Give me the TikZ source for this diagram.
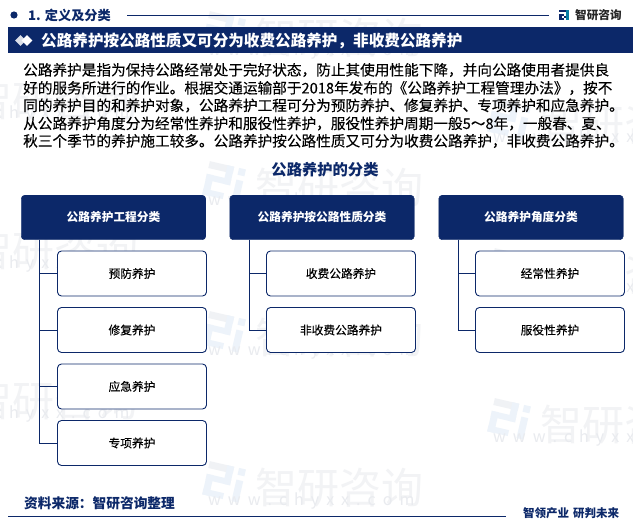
\documentclass[tikz,border=0pt]{standalone}
\usepackage{fontspec}
\setmainfont{Noto Sans CJK SC}
\newfontfamily\medf[FakeBold=0.18]{Noto Sans CJK SC}
\usetikzlibrary{shapes.geometric}
\definecolor{navy}{HTML}{0C2869}
\definecolor{wm}{HTML}{F2F3F5}
\definecolor{wmu}{HTML}{E9EBEF}
\definecolor{wmb}{HTML}{EDF3FA}
\definecolor{wmg}{HTML}{F0F2F5}
\tikzset{
 x=1pt,y=-1pt,
 headbox/.style={draw=navy,fill=navy,rounded corners=3.5pt,minimum width=184.5pt,minimum height=44.5pt,inner sep=0pt,text=white,font=\fontsize{11.7}{14}\selectfont\bfseries},
 itembox/.style={draw=navy,line width=0.9pt,fill=white,rounded corners=4pt,minimum width=149pt,minimum height=45pt,inner sep=0pt,text=black,font=\fontsize{11.7}{14}\selectfont\medf},
 conn/.style={draw=navy,line width=0.8pt},
 bodyline/.style={anchor=west,inner sep=0pt,text=black,font=\fontsize{14.65}{16}\selectfont\medf},
 wmtext/.style={text=wm,inner sep=0pt,font=\fontsize{42}{46}\selectfont},
 wmurl/.style={text=wmu,inner sep=0pt,font=\fontsize{16}{20}\selectfont},
}
\newcommand{\wg}{\hspace{7pt}}
\newcommand{\wmark}[2]{%
 \begin{scope}[shift={(#1,#2)},rotate=-13]
  \fill[wmg] (-50,-16) rectangle (-25,-9);
  \fill[wmb] (-32,-16) rectangle (-25,3);
  \fill[wmb] (-50,-3) rectangle (-25,3);
  \fill[wmb] (-50,-3) rectangle (-43,18);
  \fill[wmb] (-50,12) rectangle (-29,18);
  \fill[wmb] (-20,-16) rectangle (-13,-9);
  \fill[wmb] (-20,-4) rectangle (-13,18);
  \node[wmtext,anchor=west] at (0,0) {智研咨询};
  \node[wmurl,anchor=west] at (-43,23) {w\wg w\wg w\wg .\wg c\wg h\wg y\wg x\wg x\wg .\wg c\wg o\wg m};
 \end{scope}}
\begin{document}
\begin{tikzpicture}
\useasboundingbox (0,0) rectangle (633,524);
\fill[white] (0,0) rectangle (633,524);
\begin{scope}
\clip (0,0) rectangle (633,524);
\wmark{255}{488}
\wmark{540}{425}
\wmark{-30}{551}
\wmark{255}{338}
\wmark{540}{275}
\wmark{-30}{401}
\wmark{255}{188}
\wmark{540}{125}
\wmark{-30}{251}
\wmark{255}{38}
\wmark{540}{-25}
\wmark{-30}{101}
\end{scope}
% section header
\fill[navy] (14,15) circle (3.6);
\node[anchor=west,inner sep=0pt,text=navy,font=\fontsize{13.2}{15}\selectfont\bfseries] (sect) at (28,15.5) {1. 定义及分类};
\coordinate (ruleL) at (127,15);
\coordinate (ruleR) at (549,15);
\draw[navy,line width=0.8pt] (ruleL) -- (ruleR);
% logo
\fill[navy] (559,10) rectangle (568,12.5);
\fill[navy] (559,14) rectangle (564,16.5);
\fill[navy] (559,14) rectangle (561.5,20.5);
\fill[navy] (559,18.5) rectangle (564,20.5);
\fill[navy] (564,16) rectangle (566,18);
\fill[navy!60!cyan] (566,10) rectangle (568.5,20.5);
\node[anchor=west,inner sep=0pt,text=black!85,font=\fontsize{11.6}{13}\selectfont\bfseries] (logo) at (575,15) {智研咨询};
% title band
\fill[navy] (8,27) rectangle (633,53);
\node[diamond,fill=white!85!navy,inner sep=0pt,minimum width=11pt,minimum height=11pt] (da) at (20.5,40.5) {};
\node[diamond,fill=white,inner sep=0pt,minimum width=11pt,minimum height=11pt] (db) at (27,40.5) {};
\node[anchor=west,inner sep=0pt,text=white,font=\fontsize{15.6}{18}\selectfont\bfseries] (title) at (41,40.5) {公路养护按公路性质又可分为收费公路养护，非收费公路养护};
% body
\node[bodyline] (l1) at (23,70) {公路养护是指为保持公路经常处于完好状态，防止其使用性能下降，并向公路使用者提供良};
\node[bodyline] (l2) at (23,88) {好的服务所进行的作业。根据交通运输部于2018年发布的《公路养护工程管理办法》，按不};
\node[bodyline] (l3) at (23,105.5) {同的养护目的和养护对象，公路养护工程可分为预防养护、修复养护、专项养护和应急养护。};
\node[bodyline] (l4) at (23,123.5) {从公路养护角度分为经常性养护和服役性养护，服役性养护周期一般5～8年，一般春、夏、};
\node[bodyline] (l5) at (23,141) {秋三个季节的养护施工较多。公路养护按公路性质又可分为收费公路养护，非收费公路养护。};
\node[inner sep=0pt,text=navy,font=\fontsize{15.3}{18}\selectfont\bfseries] (ctitle) at (325,170) {公路养护的分类};
% headers
\node[headbox] (h1) at (113.5,217.5) {公路养护工程分类};
\node[headbox] (h2) at (322,217.5) {公路养护按公路性质分类};
\node[headbox] (h3) at (531,217.5) {公路养护角度分类};
% items
\node[itembox] (a1) at (132,273.5) {预防养护};
\node[itembox] (a2) at (132,330) {修复养护};
\node[itembox] (a3) at (132,386.5) {应急养护};
\node[itembox] (a4) at (132,443) {专项养护};
\node[itembox] (b1) at (341,273.5) {收费公路养护};
\node[itembox] (b2) at (341,330) {非收费公路养护};
\node[itembox] (c1) at (550,273.5) {经常性养护};
\node[itembox] (c2) at (550,330) {服役性养护};
% connectors
\draw[conn] (h1.south -| 39.5,0) |- (a1.west);
\draw[conn] (h1.south -| 39.5,0) |- (a2.west);
\draw[conn] (h1.south -| 39.5,0) |- (a3.west);
\draw[conn] (h1.south -| 39.5,0) |- (a4.west);
\draw[conn] (h2.south -| 249,0) |- (b1.west);
\draw[conn] (h2.south -| 249,0) |- (b2.west);
\draw[conn] (h3.south -| 458,0) |- (c1.west);
\draw[conn] (h3.south -| 458,0) |- (c2.west);
% footer
\node[anchor=west,inner sep=0pt,text=navy,font=\fontsize{13.7}{16}\selectfont\bfseries] (src) at (24,503) {资料来源：智研咨询整理};
\coordinate (footL) at (8,516);
\coordinate (footR) at (506,516);
\draw[navy,line width=0.8pt] (footL) -- (footR);
\node[anchor=west,inner sep=0pt,text=navy,font=\fontsize{11.5}{14}\selectfont\bfseries] (slogan) at (523,513.5) {智领产业\hspace{4pt}研判未来};
\end{tikzpicture}
\end{document}
